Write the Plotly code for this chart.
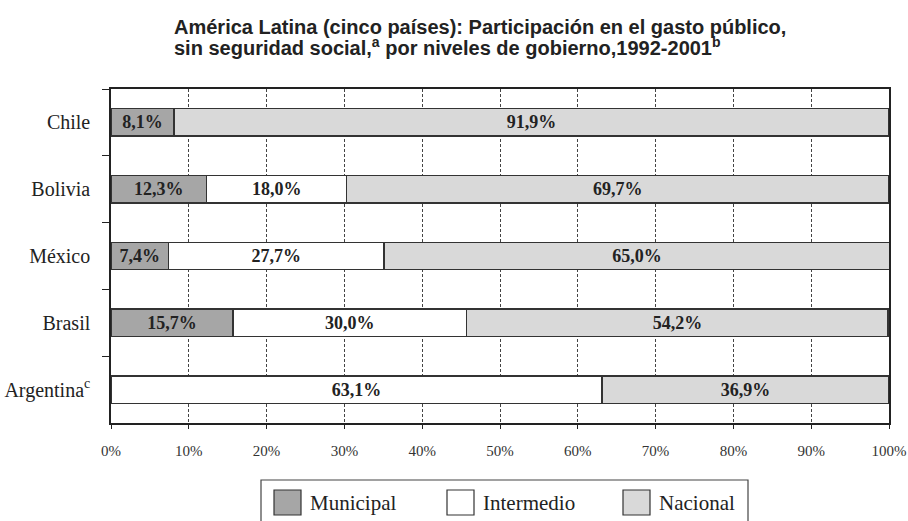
import plotly.graph_objects as go

countries = ["Chile", "Bolivia", "México", "Brasil", "Argentina<sup>c</sup>"]
series_names = ["Municipal", "Intermedio", "Nacional"]
municipal = [8.1, 12.3, 7.4, 15.7, None]
intermedio = [None, 18.0, 27.7, 30.0, 63.1]
nacional = [91.9, 69.7, 65.0, 54.2, 36.9]
x_ticks = [0, 10, 20, 30, 40, 50, 60, 70, 80, 90, 100]
x_tick_labels = ["0%", "10%", "20%", "30%", "40%", "50%", "60%", "70%", "80%", "90%", "100%"]
title_lines = [
    "América Latina (cinco países): Participación en el gasto público,",
    "sin seguridad social,<sup>a</sup> por niveles de gobierno,1992-2001<sup>b</sup>",
]

series_values = [municipal, intermedio, nacional]
colors = ["#a6a6a6", "#ffffff", "#d9d9d9"]

SERIF = "Liberation Serif, Times New Roman, serif"
SANS = "Liberation Sans, Arial, sans-serif"

W, H = 908, 521
L, R, T, B = 111, 19, 89, 98
PW, PH = W - L - R, H - T - B


def px(X):
    return (X - L) / PW


def py(Y):
    return (H - B - Y) / PH


fig = go.Figure()
for name, vals, col in zip(series_names, series_values, colors):
    fig.add_trace(go.Bar(
        y=countries, x=vals, name=name, orientation="h",
        marker=dict(color=col, line=dict(color="#333333", width=1.5)),
        texttemplate="<b>%{x:.1f}%</b>", textposition="inside",
        insidetextanchor="middle", textangle=0, constraintext="none",
        textfont=dict(family=SERIF, size=18, color="#222222"),
        width=0.41, showlegend=False,
    ))

fig.update_layout(
    barmode="stack",
    separators=",.",
    width=W, height=H,
    margin=dict(l=L, r=R, t=T, b=B, autoexpand=False),
    paper_bgcolor="white", plot_bgcolor="white",
    xaxis=dict(
        range=[0, 100], tickvals=x_ticks, ticktext=x_tick_labels,
        showgrid=True, gridcolor="#444444", gridwidth=1, griddash="3px,2px",
        showline=True, linecolor="#222222", linewidth=1.5, mirror=True,
        ticks="outside", ticklen=4, tickcolor="#222222",
        tickfont=dict(family=SERIF, size=15, color="#333333"),
        ticklabelstandoff=9, zeroline=False, automargin=False,
        ticklabeloverflow="allow",
    ),
    yaxis=dict(
        autorange="reversed", showline=True, linecolor="#222222", linewidth=1.5,
        mirror=True, ticks="outside", tickson="boundaries", ticklen=7,
        tickcolor="#222222", showgrid=False, automargin=False,
        tickfont=dict(family=SERIF, size=20, color="#222222"),
        ticklabelstandoff=15,
    ),
)

# Title (two left-aligned lines)
for line, yc in zip(title_lines, [26.5, 46.5]):
    fig.add_annotation(text="<b>" + line + "</b>", xref="paper", yref="paper",
                       x=px(172), y=py(yc), xanchor="left", yanchor="middle",
                       showarrow=False, align="left",
                       font=dict(family=SANS, size=20, color="#222222"))

# Legend drawn below the plot
fig.add_shape(type="rect", xref="paper", yref="paper",
              x0=px(261), x1=px(748), y0=py(540), y1=py(480),
              line=dict(color="#444444", width=1.2), fillcolor="white")
sw_x = [274, 447, 623]
for name, col, sx in zip(series_names, colors, sw_x):
    fig.add_shape(type="rect", xref="paper", yref="paper",
                  x0=px(sx), x1=px(sx + 27), y0=py(515), y1=py(490),
                  line=dict(color="#333333", width=1.2), fillcolor=col)
    fig.add_annotation(text=name, xref="paper", yref="paper",
                       x=px(sx + 34), y=py(503), xanchor="left", yanchor="middle",
                       showarrow=False,
                       font=dict(family=SERIF, size=21, color="#222222"))

fig.write_html("out.html", config={"displayModeBar": False},
               post_script="document.body.style.margin='0';")
